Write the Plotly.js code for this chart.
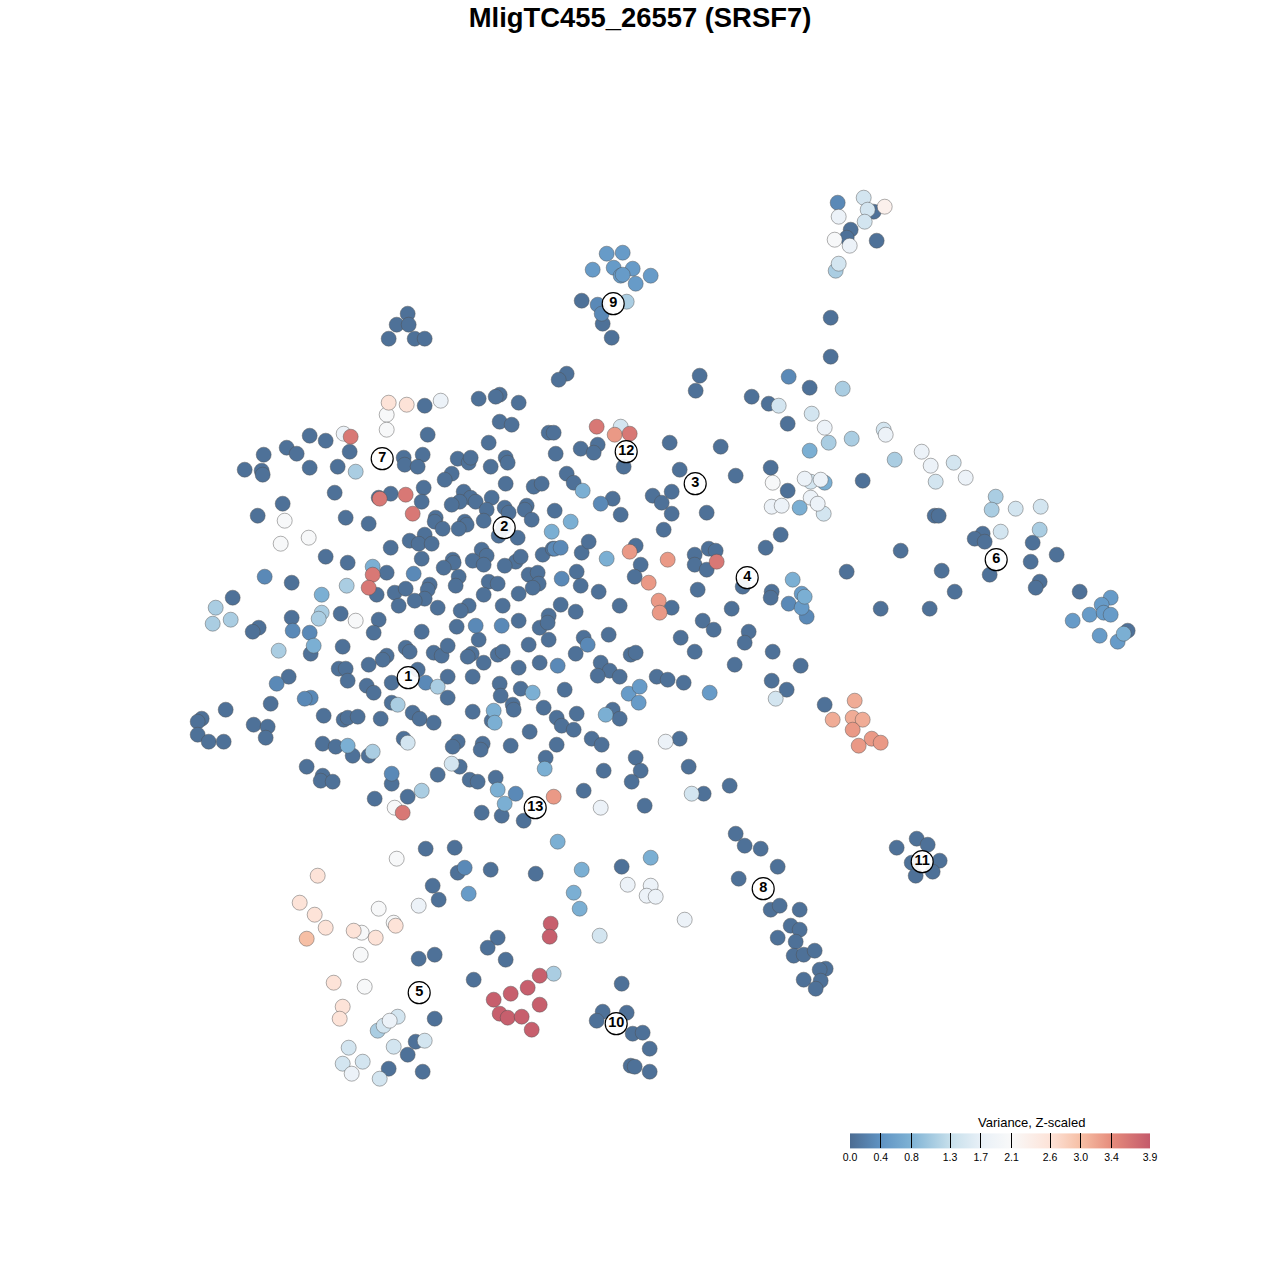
<!DOCTYPE html>
<html><head><meta charset="utf-8">
<script src="https://cdn.plot.ly/plotly-3.0.1.min.js"></script>
<style>html,body{margin:0;padding:0;background:#fff}</style></head>
<body><div id="chart" style="width:1280px;height:1280px"></div>
<script>
// t-SNE cell positions, grouped by z-scaled variance
const v005 = [[873,211],[850,229],[846,237],[876,240],[830,317],[830,356],[581,300],[602,323],[611,337],[407,313],[396,324],[408,324],[388,338],[414,338],[424,338],
[566,373],[558,379],[699,375],[695,390],[809,387],[751,396],[768,403],[787,423],[499,394],[495,396],[478,398],[518,402],[424,405],[499,421],[511,424],[548,432],[553,432],[427,434],[309,435],[325,440],[488,442],[597,444],[580,448],[593,452],[669,442],[720,446],[286,447],[263,454],[296,453],[349,451],[555,453],[457,458],[468,462],[470,457],[403,457],[404,464],[422,454],[417,466],[505,457],[507,462],[490,466],[623,466],[309,467],[337,466],[244,469],[261,470],[262,474],[451,473],[444,479],[566,473],[573,482],[679,469],[735,475],[770,467],[505,483],[533,486],[541,483],[423,487],[334,492],[378,497],[390,493],[787,490],[862,480],[463,491],[470,497],[475,501],[459,501],[451,504],[491,497],[652,495],[661,502],[671,491],[612,498],[421,501],[282,503],[486,509],[504,507],[508,512],[526,505],[524,509],[531,519],[554,510],[620,514],[671,513],[706,512],[257,515],[345,517],[368,523],[435,517],[434,521],[483,520],[464,521],[466,524],[458,528],[442,528],[503,527],[498,535],[517,537],[663,529],[934,515],[938,515],[982,533],[974,538],[984,541],[1032,542],[1056,554],[1030,561],[780,534],[765,547],[900,550],[424,534],[409,540],[418,543],[431,543],[390,547],[481,549],[486,555],[515,561],[520,556],[542,554],[552,548],[581,552],[588,541],[635,545],[708,548],[715,550],[694,554],[325,556],[347,562],[421,558],[452,559],[453,562],[472,560],[483,564],[504,565],[640,564],[694,564],[706,569],[386,572],[443,567],[458,576],[528,574],[537,572],[576,571],[634,576],[846,571],[941,570],[291,582],[376,594],[394,592],[405,588],[429,584],[427,589],[424,598],[414,600],[398,605],[437,607],[455,585],[488,581],[497,583],[483,594],[518,593],[538,583],[532,587],[580,585],[598,591],[742,586],[697,589],[1039,581],[1035,587],[954,591],[1079,591],[771,591],[770,597],[232,597],[880,608],[929,608],[731,608],[671,607],[619,605],[575,611],[560,604],[548,615],[502,605],[468,605],[460,610],[340,613],[291,617],[378,619],[1127,630],[518,620],[258,627],[252,631],[373,632],[456,626],[539,627],[547,622],[702,620],[713,629],[748,631],[744,642],[421,631],[548,639],[528,644],[583,637],[608,634],[680,637],[694,651],[478,639],[342,646],[310,653],[405,647],[409,651],[433,652],[441,655],[447,645],[471,653],[467,656],[497,654],[502,651],[575,653],[630,654],[635,652],[772,651],[386,655],[382,659],[368,664],[338,668],[345,668],[483,662],[518,667],[539,662],[600,662],[609,670],[597,675],[619,676],[656,676],[667,679],[683,682],[734,664],[800,665],[288,676],[347,680],[366,685],[373,692],[391,682],[417,669],[447,676],[472,676],[499,683],[500,695],[520,688],[564,689],[771,680],[786,689],[824,704],[447,697],[270,703],[225,709],[201,718],[197,721],[197,734],[208,741],[223,741],[253,724],[267,726],[265,737],[323,715],[343,719],[347,717],[357,716],[380,718],[391,702],[412,712],[419,718],[433,722],[472,711],[491,720],[512,704],[513,709],[543,707],[556,717],[561,725],[576,713],[573,729],[612,709],[619,718],[529,731],[322,743],[335,746],[352,755],[368,755],[403,738],[457,741],[452,746],[482,743],[480,749],[510,745],[556,744],[591,738],[601,744],[679,738],[635,757],[545,757],[306,766],[322,775],[320,780],[332,781],[391,783],[437,774],[459,766],[469,779],[477,781],[495,777],[603,770],[640,770],[631,781],[688,766],[729,785],[703,793],[374,798],[407,796],[583,790],[644,805],[481,812],[501,815],[523,820],[735,833],[744,845],[760,848],[425,848],[454,847],[777,866],[738,878],[457,872],[490,869],[535,873],[621,866],[432,885],[438,899],[770,909],[799,909],[779,905],[790,925],[799,929],[777,937],[795,941],[497,937],[487,947],[434,954],[418,958],[505,959],[793,955],[803,954],[814,950],[825,968],[819,969],[820,980],[803,979],[815,988],[473,979],[621,983],[434,1018],[602,1011],[626,1012],[596,1020],[632,1033],[642,1032],[415,1041],[407,1054],[649,1048],[388,1068],[422,1071],[630,1065],[634,1066],[649,1071],[916,838],[927,844],[896,847],[911,862],[939,860],[932,871],[915,875],[989,574]];
const v030 = [[837,202],[597,304],[601,313],[788,376],[600,503],[554,548],[560,547],[413,573],[561,578],[264,576],[788,603],[806,616],[292,630],[309,632],[475,625],[501,625],[587,644],[557,665],[276,683],[425,682],[310,697],[304,698],[391,773],[515,793],[464,867]];
const v050 = [[606,253],[622,252],[592,269],[613,267],[632,268],[620,275],[622,274],[650,275],[635,283],[801,593],[1110,597],[1101,604],[1089,614],[1072,620],[1103,612],[1110,614],[1099,635],[1117,641],[801,607],[628,693],[639,686],[638,702],[709,692],[468,893]];
const v075 = [[809,450],[582,490],[824,482],[799,507],[570,521],[551,531],[606,558],[372,566],[792,579],[804,596],[321,594],[1123,633],[313,645],[532,692],[493,710],[494,722],[605,714],[347,745],[544,768],[497,789],[504,803],[557,841],[650,857],[581,869],[573,892],[579,908]];
const v110 = [[835,270],[626,301],[842,388],[828,442],[851,438],[894,459],[355,471],[995,496],[991,509],[1039,529],[346,585],[215,607],[321,612],[318,618],[212,623],[230,619],[278,650],[437,686],[397,704],[372,751],[421,790],[553,973],[377,1030]];
const v145 = [[863,197],[867,209],[864,221],[838,263],[778,405],[811,413],[883,429],[953,462],[935,481],[620,426],[1015,508],[1040,506],[1000,531],[810,481],[823,513],[775,698],[407,742],[451,763],[691,793],[599,935],[397,1016],[383,1025],[424,1040],[393,1046],[348,1047],[342,1063],[362,1061],[379,1078]];
const v180 = [[838,216],[849,245],[824,427],[885,434],[921,451],[930,465],[965,477],[440,400],[343,433],[804,478],[820,479],[771,506],[781,505],[810,497],[817,503],[665,741],[600,807],[627,884],[650,885],[646,895],[655,896],[418,905],[684,919],[389,1020],[351,1073]];
const v205 = [[386,414],[386,429],[772,482],[284,520],[308,537],[280,543],[355,620],[394,807],[396,858],[378,908],[393,922],[361,932],[360,954],[364,986],[834,239]];
const v230 = [[884,206]];
const v260 = [[388,402],[406,404],[317,875],[299,902],[314,914],[395,925],[325,927],[353,930],[375,937],[333,982],[342,1006],[339,1018]];
const v300 = [[306,938]];
const v315 = [[854,700],[832,719],[852,717],[862,719]];
const v330 = [[614,434],[629,551],[667,559],[648,582],[658,600],[659,612],[852,729],[871,738],[880,742],[858,745],[553,796]];
const v360 = [[596,426],[629,433],[350,436],[379,498],[405,494],[412,513],[716,561],[372,574],[368,587],[402,812]];
const v385 = [[550,923],[549,936],[539,975],[527,987],[510,993],[493,999],[539,1004],[499,1013],[507,1017],[521,1016],[531,1029]];

const bandValues = [0.05, 0.3, 0.5, 0.75, 1.1, 1.45, 1.8, 2.05, 2.3, 2.6, 3.0, 3.15, 3.3, 3.6, 3.85];
const bandPoints = [v005, v030, v050, v075, v110, v145, v180, v205, v230, v260, v300, v315, v330, v360, v385];

const clusterIds = ['1','2','3','4','5','6','7','8','9','10','11','12','13'];
const clusterX = [407.5,503.5,694.5,746.5,418.5,995.5,381.5,762.5,612.5,615.5,921.5,625.5,534.5];
const clusterY = [677,527,483,577,992,559,458,888,303,1023,861,451,807];

const legendTicks = [0, 0.4, 0.8, 1.3, 1.7, 2.1, 2.6, 3.0, 3.4, 3.9];
const legendTickText = ['0.0','0.4','0.8','1.3','1.7','2.1','2.6','3.0','3.4','3.9'];
const legendColors = ['#4c6c92','#5f93c3','#7fb3d5','#c6dfeb','#e8f0f7','#f9f9f9','#fde3d8','#f6bfa5','#e68c7c','#c45a6b'];

const xs = [], ys = [], vs = [];
bandPoints.forEach((pts, i) => pts.forEach(p => { xs.push(p[0]); ys.push(p[1]); vs.push(bandValues[i]); }));
const vMax = legendTicks[legendTicks.length - 1];
const scale = legendTicks.map((t, i) => [t / vMax, legendColors[i]]);
const FONT = '"Liberation Sans", Arial, sans-serif';

Plotly.newPlot('chart', [
  { type: 'scatter', mode: 'markers', x: xs, y: ys, hoverinfo: 'skip', showlegend: false,
    marker: { size: 15, color: vs, cmin: 0, cmax: vMax, colorscale: scale,
      line: { color: 'rgba(80,80,80,0.45)', width: 1 },
      colorbar: { orientation: 'h', lenmode: 'pixels', len: 300, thicknessmode: 'pixels', thickness: 15,
        x: 1000 / 1280, xanchor: 'center', y: 101 / 1280, yanchor: 'bottom',
        xpad: 0, ypad: 0, outlinewidth: 0, borderwidth: 0,
        tickmode: 'array', tickvals: legendTicks, ticktext: legendTickText,
        ticks: 'inside', ticklen: 15, tickwidth: 1, tickcolor: '#000',
        tickfont: { family: FONT, size: 10.5, color: '#000' } } } },
  { type: 'scatter', mode: 'markers+text', x: clusterX, y: clusterY, text: clusterIds,
    textposition: 'middle center', hoverinfo: 'skip', showlegend: false,
    textfont: { family: FONT, size: 14.5, color: '#000', weight: 'bold' },
    marker: { size: 22, color: 'rgba(255,255,255,0.92)', line: { color: '#000', width: 1.2 } } }
], {
  width: 1280, height: 1280, margin: { l: 0, r: 0, t: 0, b: 0 },
  paper_bgcolor: '#fff', plot_bgcolor: '#fff',
  title: { text: '<b>MligTC455_26557 (SRSF7)</b>', x: 0.5, xanchor: 'center', xref: 'paper',
    y: 1 - 17 / 1280, yanchor: 'middle', yref: 'container', font: { family: FONT, size: 27.4, color: '#000' } },
  xaxis: { range: [-0.7, 1279.3], visible: false, fixedrange: true },
  yaxis: { range: [1279.3, -0.7], visible: false, fixedrange: true },
  annotations: [{ text: 'Variance, Z-scaled', xref: 'paper', yref: 'paper', x: 1031 / 1280, y: 1 - 1122 / 1280,
    xanchor: 'center', yanchor: 'middle', showarrow: false, font: { family: FONT, size: 13, color: '#000' } }]
}, { displayModeBar: false });
</script></body></html>
